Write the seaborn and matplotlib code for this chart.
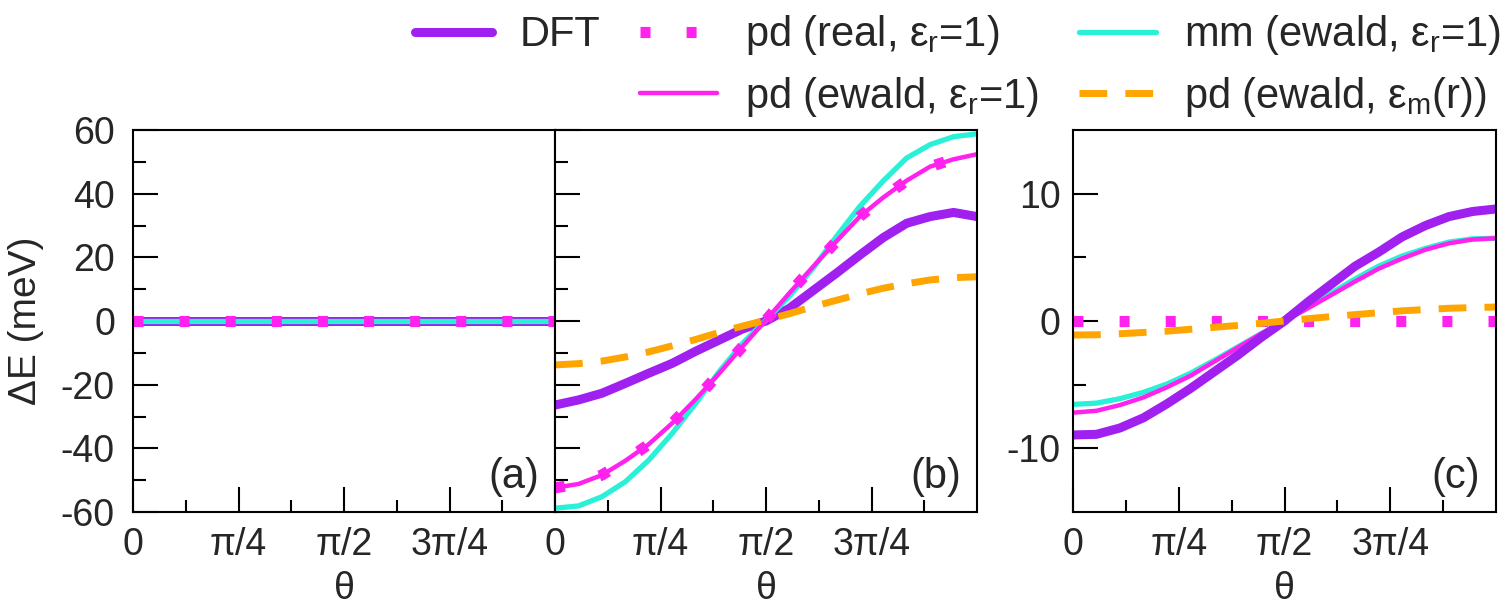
import numpy as np
import matplotlib
matplotlib.use("Agg")
import matplotlib.pyplot as plt
from matplotlib.lines import Line2D
import seaborn as sns

# angle grid (degrees), 10 degree steps
theta_deg = [0, 10, 20, 30, 40, 50, 60, 70, 80, 90, 100, 110, 120, 130, 140, 150, 160, 170, 180]

# panel (a): everything is zero
dft_a   = [0.0, 0.0, 0.0, 0.0, 0.0, 0.0, 0.0, 0.0, 0.0, 0.0, 0.0, 0.0, 0.0, 0.0, 0.0, 0.0, 0.0, 0.0, 0.0]
real_a  = [0.0, 0.0, 0.0, 0.0, 0.0, 0.0, 0.0, 0.0, 0.0, 0.0, 0.0, 0.0, 0.0, 0.0, 0.0, 0.0, 0.0, 0.0, 0.0]
ewald_a = [0.0, 0.0, 0.0, 0.0, 0.0, 0.0, 0.0, 0.0, 0.0, 0.0, 0.0, 0.0, 0.0, 0.0, 0.0, 0.0, 0.0, 0.0, 0.0]
mm_a    = [0.0, 0.0, 0.0, 0.0, 0.0, 0.0, 0.0, 0.0, 0.0, 0.0, 0.0, 0.0, 0.0, 0.0, 0.0, 0.0, 0.0, 0.0, 0.0]
epsm_a  = [0.0, 0.0, 0.0, 0.0, 0.0, 0.0, 0.0, 0.0, 0.0, 0.0, 0.0, 0.0, 0.0, 0.0, 0.0, 0.0, 0.0, 0.0, 0.0]

# panel (b)
dft_b   = [-26.4, -24.8, -22.7, -19.6, -16.4, -13.3, -9.5, -6.0, -2.5, 0.0, 4.0, 9.5, 15.0, 20.7, 26.2, 30.7, 32.8, 34.1, 32.8]
real_b  = [-52.4, -51.2, -48.4, -43.9, -38.7, -32.1, -24.6, -16.5, -8.0, 0.3, 8.8, 17.0, 25.0, 32.8, 38.8, 44.1, 48.5, 50.8, 52.4]
ewald_b = [-52.4, -51.2, -48.4, -43.9, -38.7, -32.1, -24.6, -16.5, -8.0, 0.3, 8.8, 17.0, 25.0, 32.8, 38.8, 44.1, 48.5, 50.8, 52.4]
mm_b    = [-58.8, -58.1, -55.2, -50.5, -43.7, -35.3, -25.9, -15.9, -7.0, 0.3, 7.8, 16.5, 26.5, 36.0, 44.0, 51.2, 55.4, 57.9, 58.8]
epsm_b  = [-13.8, -13.4, -12.6, -11.3, -9.7, -7.8, -5.8, -3.6, -1.6, 0.3, 2.3, 4.5, 6.5, 8.5, 10.3, 11.7, 12.9, 13.6, 13.9]

# panel (c)
dft_c   = [-8.95, -8.9, -8.4, -7.6, -6.5, -5.3, -4.0, -2.7, -1.3, 0.0, 1.5, 2.9, 4.3, 5.4, 6.6, 7.5, 8.2, 8.6, 8.8]
real_c  = [0.0, 0.0, 0.0, 0.0, 0.0, 0.0, 0.0, 0.0, 0.0, 0.0, 0.0, 0.0, 0.0, 0.0, 0.0, 0.0, 0.0, 0.0, 0.0]
ewald_c = [-7.2, -7.05, -6.6, -6.0, -5.2, -4.3, -3.2, -2.1, -1.0, 0.0, 1.0, 2.05, 3.1, 4.1, 4.9, 5.6, 6.1, 6.4, 6.5]
mm_c    = [-6.55, -6.45, -6.1, -5.6, -4.95, -4.1, -3.1, -2.05, -1.0, 0.0, 1.1, 2.2, 3.3, 4.3, 5.1, 5.7, 6.2, 6.45, 6.5]
epsm_c  = [-1.1, -1.08, -1.0, -0.9, -0.8, -0.65, -0.5, -0.35, -0.18, 0.0, 0.18, 0.35, 0.5, 0.65, 0.8, 0.9, 1.0, 1.05, 1.1]

labels = ["DFT", r"pd (real, $\epsilon_\mathrm{r}$=1)", r"pd (ewald, $\epsilon_\mathrm{r}$=1)",
          r"mm (ewald, $\epsilon_\mathrm{r}$=1)", r"pd (ewald, $\epsilon_\mathrm{m}$(r))"]

sns.set_style("ticks")
plt.rcParams["font.family"] = ["Liberation Sans", "DejaVu Sans"]
plt.rcParams["mathtext.fontset"] = "custom"
plt.rcParams["mathtext.rm"] = "Liberation Sans"
plt.rcParams["mathtext.it"] = "Liberation Sans"
plt.rcParams["axes.unicode_minus"] = False

PURPLE = "#A020F0"
PINK = "#FF22EE"
CYAN = "#2AF0D8"
ORANGE = "#FFA500"

styles = {
    "dft":   dict(color=PURPLE, linewidth=6.5, linestyle="-"),
    "mm":    dict(color=CYAN, linewidth=3.8, linestyle="-"),
    "ewald": dict(color=PINK, linewidth=3.2, linestyle="-"),
    "real":  dict(color=PINK, linewidth=8, linestyle=(0, (0.9, 3.25)), dash_capstyle="butt"),
    "epsm":  dict(color=ORANGE, linewidth=5, linestyle=(0, (4.0, 2.6)), dash_capstyle="butt"),
}

theta = np.deg2rad(theta_deg)

fig = plt.figure(figsize=(15.05, 6.07), dpi=100)
bot, hgt = 95 / 607, 382 / 607
ax_a = fig.add_axes([133 / 1505, bot, 422 / 1505, hgt])
ax_b = fig.add_axes([555 / 1505, bot, 422 / 1505, hgt])
ax_c = fig.add_axes([1073 / 1505, bot, 423 / 1505, hgt])

panels = [
    (ax_a, dict(dft=dft_a, mm=mm_a, ewald=ewald_a, real=real_a, epsm=epsm_a), "(a)",
     ["epsm", "ewald", "dft", "mm", "real"]),
    (ax_b, dict(dft=dft_b, mm=mm_b, ewald=ewald_b, real=real_b, epsm=epsm_b), "(b)",
     ["dft", "mm", "ewald", "real", "epsm"]),
    (ax_c, dict(dft=dft_c, mm=mm_c, ewald=ewald_c, real=real_c, epsm=epsm_c), "(c)",
     ["mm", "ewald", "dft", "real", "epsm"]),
]

FS = 27
for ax, data, tag, order in panels:
    for key in order:
        sns.lineplot(x=theta, y=data[key], ax=ax, **styles[key])
    ax.set_xlim(0, np.pi)
    ax.set_xticks([0, np.pi / 4, np.pi / 2, 3 * np.pi / 4])
    ax.set_xticklabels(["0", "π/4", "π/2", "3π/4"])
    ax.set_xticks([np.pi / 8, 3 * np.pi / 8, 5 * np.pi / 8, 7 * np.pi / 8], minor=True)
    ax.tick_params(which="both", direction="in", top=False, right=False, width=1.5,
                   labelsize=FS, color="black")
    ax.tick_params(which="major", length=18)
    ax.tick_params(which="minor", length=9)
    ax.tick_params(axis="x", pad=11)
    ax.tick_params(axis="y", pad=13)
    for sp in ax.spines.values():
        sp.set_linewidth(1.5)
        sp.set_color("black")
        sp.set_visible(True)
    ax.set_xlabel("θ", fontsize=FS)
    ax.xaxis.set_label_coords(0.5, -0.155)
    ax.text(0.962, 0.062, tag, transform=ax.transAxes, ha="right", va="baseline", fontsize=30)

for ax in (ax_a, ax_b):
    ax.set_ylim(-60, 60)
    ax.set_yticks([-60, -40, -20, 0, 20, 40, 60])
    ax.set_yticks([-50, -30, -10, 10, 30, 50], minor=True)
ax_b.tick_params(axis="y", labelleft=False)

ax_c.set_ylim(-15, 15)
ax_c.set_yticks([-10, 0, 10])
ax_c.set_yticks([-5, 5], minor=True)
ax_c.tick_params(axis="y", pad=9)

fig.text(26 / 1505, 1 - 321 / 607, "ΔE (meV)", rotation=90, ha="center", va="center", fontsize=28)

blank = Line2D([], [], color="none")
h = {k: Line2D([], [], **v) for k, v in styles.items()}
handles = [h["dft"], blank, h["real"], h["ewald"], h["mm"], h["epsm"]]
leg_labels = [labels[0], "", labels[1], labels[2], labels[3], labels[4]]
fig.legend(handles, leg_labels, ncol=3, loc="upper right", bbox_to_anchor=(1.0, 0.985),
           frameon=False, fontsize=30, handlelength=1.85, handletextpad=0.67,
           columnspacing=0.96, labelspacing=0.42, borderpad=0.1, borderaxespad=0.0)

fig.savefig("out.png", dpi=100)
